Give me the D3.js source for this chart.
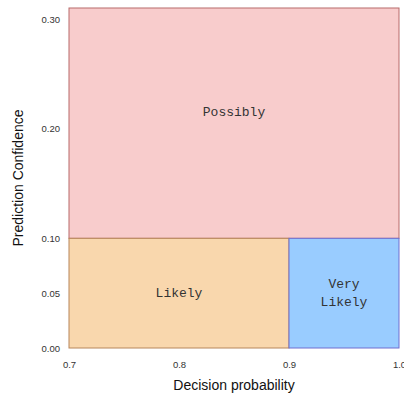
<!DOCTYPE html>
<html>
<head>
<meta charset="utf-8">
<script src="https://cdn.jsdelivr.net/npm/d3@7"></script>
<style>
  body { margin: 0; background: #fff; }
  .tick text { font-family: "Liberation Sans", Arial, sans-serif; font-size: 9.5px; fill: #333; }
  .axis-label { font-family: "Liberation Sans", Arial, sans-serif; font-size: 14px; fill: #111; }
  .zone-label { font-family: "Liberation Mono", "Courier New", monospace; font-size: 13px; fill: #333; }
</style>
</head>
<body>
<svg id="chart" width="404" height="400"></svg>
<script>
const svg = d3.select("#chart");

var width = +svg.attr("width");
var height = +svg.attr("height");

// zones: [x0, x1, y0, y1]
var zoneNames = ["Possibly", "Likely", "Very Likely"];
var zoneX0 = [0.7, 0.7, 0.9];
var zoneX1 = [1.0, 0.9, 1.0];
var zoneY0 = [0.1, 0.0, 0.0];
var zoneY1 = [0.31, 0.1, 0.1];
var zoneFill = ["#f8cccc", "#f9d7ad", "#99ccff"];
var zoneStroke = ["#b86a6a", "#b7865a", "#6f6fd0"];

var xTicks = [0.7, 0.8, 0.9, 1.0];
var yTicks = [0.0, 0.05, 0.10, 0.20, 0.30];

var margin = {top: 8, right: 5, bottom: 52, left: 69};
var innerWidth = width - margin.left - margin.right;
var innerHeight = height - margin.top - margin.bottom;

var xScale = d3.scaleLinear()
    .domain([0.7, 1.0])
    .range([0, innerWidth]);

var yScale = d3.scaleLinear()
    .domain([0, 0.31])
    .range([innerHeight, 0]);

var g = svg.append("g")
    .attr("transform", `translate(${margin.left},${margin.top})`);

var zones = zoneNames.map((n, i) => ({
    name: n, x0: zoneX0[i], x1: zoneX1[i], y0: zoneY0[i], y1: zoneY1[i],
    fill: zoneFill[i], stroke: zoneStroke[i]
}));

g.selectAll(".zone").data(zones)
    .enter().append("rect")
    .attr("class", "zone")
    .attr("x", d => xScale(d.x0))
    .attr("y", d => yScale(d.y1))
    .attr("width", d => xScale(d.x1) - xScale(d.x0))
    .attr("height", d => yScale(d.y0) - yScale(d.y1))
    .attr("fill", d => d.fill)
    .attr("stroke", d => d.stroke)
    .attr("stroke-width", 1);

g.selectAll(".zone-label").data(zones)
    .enter().append("text")
    .attr("class", "zone-label")
    .attr("text-anchor", "middle")
    .attr("x", d => (xScale(d.x0) + xScale(d.x1)) / 2)
    .attr("y", d => (yScale(d.y0) + yScale(d.y1)) / 2)
    .each(function(d) {
        var words = d.name.split(" ");
        var t = d3.select(this);
        if (d.name == "Possibly") t.attr("y", yScale(0.21) - 6);
        words.forEach((w, i) => {
            t.append("tspan")
                .attr("x", (xScale(d.x0) + xScale(d.x1)) / 2)
                .attr("dy", i == 0 ? (4 - (words.length - 1) * 9) : 18)
                .text(w);
        });
    });

var xAxis = d3.axisBottom(xScale)
    .tickValues(xTicks)
    .tickSize(0)
    .tickPadding(13)
    .tickFormat(d3.format(".1f"));

var yAxis = d3.axisLeft(yScale)
    .tickValues(yTicks)
    .tickSize(0)
    .tickPadding(9)
    .tickFormat(d3.format(".2f"));

var xAxisG = g.append("g").call(xAxis)
    .attr("transform", `translate(0,${innerHeight})`);
xAxisG.select(".domain").remove();

var yAxisG = g.append("g").call(yAxis);
yAxisG.select(".domain").remove();

xAxisG.append("text")
    .attr("class", "axis-label")
    .attr("x", innerWidth / 2)
    .attr("y", 42)
    .attr("text-anchor", "middle")
    .text("Decision probability");

yAxisG.append("text")
    .attr("class", "axis-label")
    .attr("x", -innerHeight / 2)
    .attr("y", -46)
    .attr("transform", "rotate(-90)")
    .attr("text-anchor", "middle")
    .text("Prediction Confidence");
</script>
</body>
</html>
